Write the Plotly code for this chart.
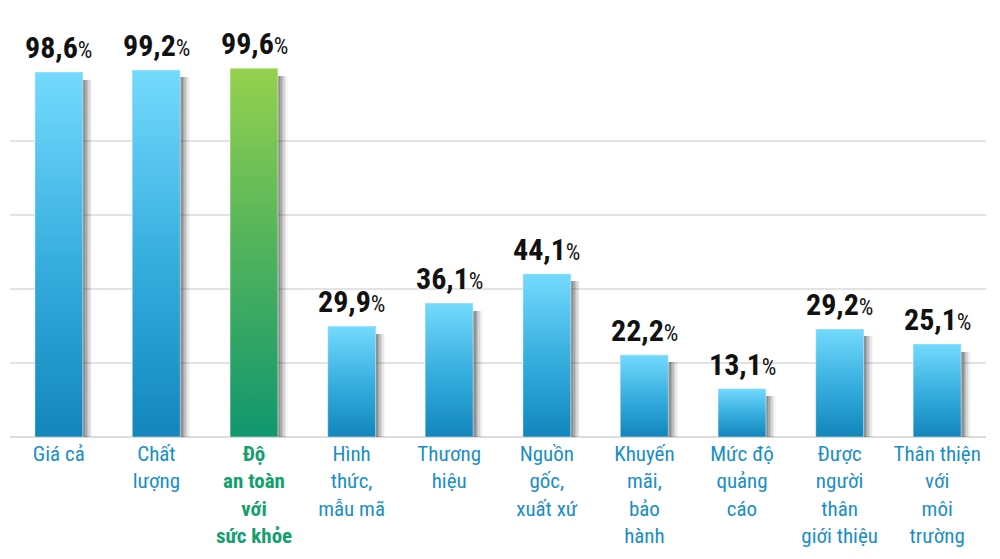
import plotly.graph_objects as go

categories = ["Giá cả", "Chất<br>lượng", "Độ<br>an toàn<br>với<br>sức khỏe", "Hình<br>thức,<br>mẫu mã",
              "Thương<br>hiệu", "Nguồn<br>gốc,<br>xuất xứ", "Khuyến<br>mãi,<br>bảo<br>hành",
              "Mức độ<br>quảng<br>cáo", "Được<br>người<br>thân<br>giới thiệu", "Thân thiện<br>với<br>môi<br>trường"]
values = [98.6, 99.2, 99.6, 29.9, 36.1, 44.1, 22.2, 13.1, 29.2, 25.1]
highlight = 2

BLUE_SCALE = [[0, "#1286bb"], [0.5, "#39afe0"], [1, "#74dafd"]]
GREEN_SCALE = [[0, "#11976f"], [0.5, "#4fb25d"], [1, "#95d14e"]]
LABEL_BLUE = "#1a8ec6"
LABEL_GREEN = "#13a06e"
FONT = "Roboto Condensed, DejaVu Sans Condensed, Liberation Sans Narrow, Roboto, sans-serif"
W = 0.49

xs = list(range(len(categories)))
fig = go.Figure()

# soft drop shadow (layered)
for shift, alpha in [(0.10, 0.04), (0.085, 0.07), (0.07, 0.10), (0.055, 0.13), (0.04, 0.16), (0.025, 0.2)]:
    fig.add_trace(go.Bar(x=xs, y=[v - 2 for v in values], width=W, offset=-W / 2 + shift,
                         marker=dict(color=f"rgba(50,50,50,{alpha})", line=dict(width=0)),
                         hoverinfo="skip", showlegend=False))

# base bars
fig.add_trace(go.Bar(x=xs, y=values, width=W, offset=-W / 2,
                     marker=dict(color=["#95d14e" if i == highlight else "#39afe0" for i in xs],
                                 line=dict(width=0)),
                     hoverinfo="skip", showlegend=False))

# gradient overlays
for i, v in zip(xs, values):
    x0, x1 = i - W / 2, i + W / 2
    fig.add_trace(go.Scatter(x=[x0, x1, x1, x0, x0], y=[0, 0, v, v, 0], mode="lines",
                             fill="toself",
                             fillgradient=dict(type="vertical",
                                               colorscale=GREEN_SCALE if i == highlight else BLUE_SCALE),
                             line=dict(width=1, color="rgba(255,255,255,0.45)"),
                             hoverinfo="skip", showlegend=False))

# value labels
for i, v in zip(xs, values):
    txt = f"<b>{str(v).replace('.', ',')}</b><span style='font-size:23px'>%</span>"
    fig.add_annotation(x=i, y=v, text=txt, showarrow=False, yanchor="bottom", yshift=5,
                       font=dict(family=FONT, size=30, color="#111111"))

ticktext = []
for i, c in enumerate(categories):
    if i == highlight:
        ticktext.append(f"<b><span style='color:{LABEL_GREEN}'>{c}</span></b>")
    else:
        ticktext.append(c)

fig.update_layout(
    width=1000, height=559,
    margin=dict(l=10, r=14, t=67, b=122),
    paper_bgcolor="white", plot_bgcolor="white",
    barmode="overlay", bargap=0,
    font=dict(family=FONT),
    xaxis=dict(range=[-0.5, 9.5], tickvals=xs, ticktext=ticktext, showgrid=False, zeroline=False,
               tickfont=dict(family=FONT, size=21, color=LABEL_BLUE), ticks="", ticklabelstandoff=2,
               fixedrange=True),
    yaxis=dict(range=[0, 100], dtick=20, showticklabels=False, showgrid=True,
               gridcolor="#e3e3e3", gridwidth=1.5, zeroline=True, zerolinecolor="#dcdcdc",
               zerolinewidth=1.5, fixedrange=True),
)

fig.write_html("out.html")
